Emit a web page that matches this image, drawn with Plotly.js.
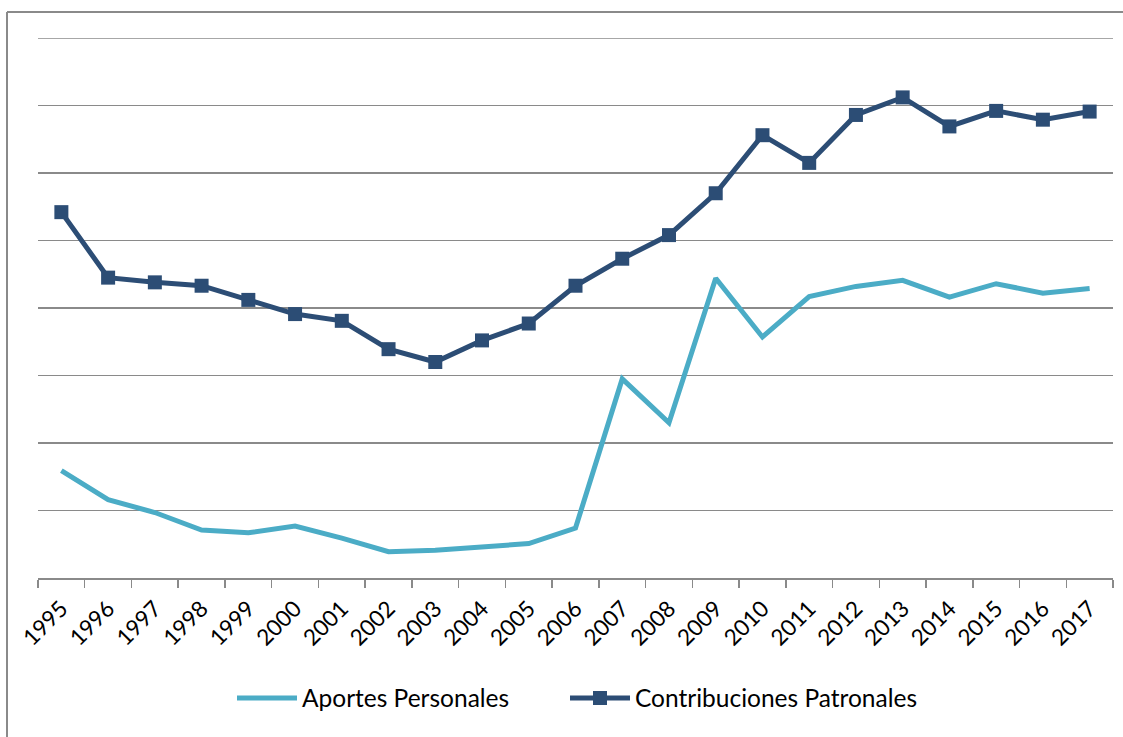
<!DOCTYPE html>
<html>
<head>
<meta charset="utf-8">
<script src="https://cdn.plot.ly/plotly-3.0.1.min.js"></script>
<style>
html,body{margin:0;padding:0;background:#fff;}
#chart{width:1123px;height:737px;}
</style>
</head>
<body>
<div id="chart"></div>
<script>
const years = ["1995","1996","1997","1998","1999","2000","2001","2002","2003","2004","2005","2006","2007","2008","2009","2010","2011","2012","2013","2014","2015","2016","2017"];
const aportesPersonales = [1.59,1.16,0.97,0.71,0.67,0.77,0.59,0.39,0.41,0.46,0.51,0.74,2.95,2.30,4.44,3.57,4.17,4.32,4.41,4.16,4.36,4.22,4.29];
const contribucionesPatronales = [5.42,4.45,4.38,4.33,4.12,3.91,3.81,3.39,3.20,3.52,3.77,4.33,4.73,5.08,5.70,6.56,6.15,6.86,7.12,6.69,6.92,6.79,6.91];
const seriesNames = ["Aportes Personales","Contribuciones Patronales"];

const W = 1123, H = 737;
const mL = 38, mR = 10, mT = 38, mB = 159;
const pw = W - mL - mR, ph = H - mT - mB;
const px = v => (v - mL) / pw;
const py = v => (H - mB - v) / ph;
const gray = '#8a8a8a';
const yTop = 8;

const traces = [
  {
    x: years, y: aportesPersonales, name: seriesNames[0],
    type: 'scatter', mode: 'lines', legend: 'legend',
    line: {color: '#4BACC6', width: 5}
  },
  {
    x: years, y: contribucionesPatronales, name: seriesNames[1],
    type: 'scatter', mode: 'lines+markers', legend: 'legend2',
    line: {color: '#2C4D75', width: 5},
    marker: {symbol: 'square', size: 14, color: '#2C4D75'}
  }
];

const legendBase = {orientation: 'h', xanchor: 'left', y: py(698), yanchor: 'middle', font: {size: 24.5}, itemwidth: 60};

const layout = {
  width: W, height: H,
  margin: {l: mL, r: mR, t: mT, b: mB},
  paper_bgcolor: '#ffffff', plot_bgcolor: '#ffffff',
  font: {family: 'Lato, "Open Sans", sans-serif', color: '#000', size: 22},
  showlegend: true,
  legend: Object.assign({}, legendBase, {x: px(232)}),
  legend2: Object.assign({}, legendBase, {x: px(565)}),
  xaxis: {
    type: 'category', range: [-0.5, 22.5], autorange: false,
    tickson: 'boundaries', ticks: 'outside', ticklen: 8,
    tickcolor: gray, tickwidth: 1.5, showline: true, linecolor: gray, linewidth: 1.5,
    showgrid: false, tickangle: -45, tickfont: {size: 22.5}, ticklabelstandoff: 7, fixedrange: true
  },
  yaxis: {
    range: [0, yTop], dtick: 1, showticklabels: false, showgrid: true,
    gridcolor: gray, gridwidth: 1.5, zeroline: false, showline: false, ticks: '', fixedrange: true
  },
  shapes: [
    {type: 'line', xref: 'paper', yref: 'y', x0: 0, x1: 1, y0: yTop, y1: yTop, line: {color: gray, width: 1.5}, layer: 'below'},
    {type: 'line', xref: 'paper', yref: 'paper', x0: px(7), x1: px(1130), y0: py(12), y1: py(12), line: {color: gray, width: 2}},
    {type: 'line', xref: 'paper', yref: 'paper', x0: px(7), x1: px(7), y0: py(12), y1: py(745), line: {color: gray, width: 2}}
  ]
};

Plotly.newPlot('chart', traces, layout, {displayModeBar: false, staticPlot: true});
</script>
</body>
</html>
